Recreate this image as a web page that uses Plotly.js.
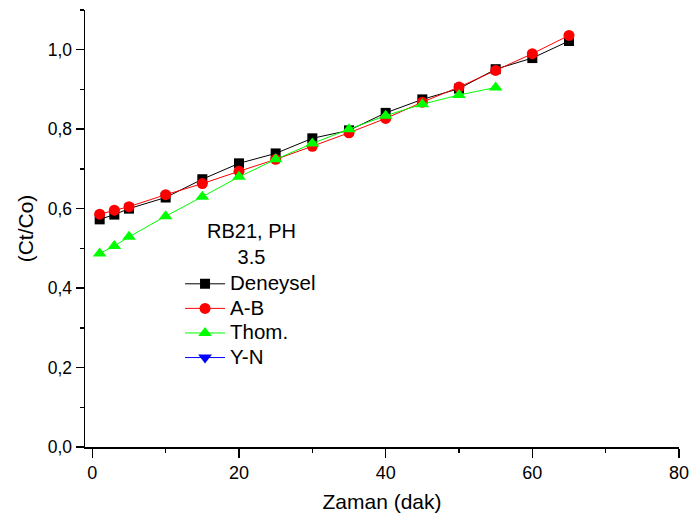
<!DOCTYPE html>
<html>
<head>
<meta charset="utf-8">
<script src="https://cdn.plot.ly/plotly-3.0.1.min.js"></script>
<style>html,body{margin:0;padding:0;background:#fff;}#chart{width:693px;height:520px;}</style>
</head>
<body>
<div id="chart"></div>
<script>
const time = [1, 3, 5, 10, 15, 20, 25, 30, 35, 40, 45, 50, 55, 60, 65];
const deneysel = [0.573, 0.585, 0.600, 0.628, 0.674, 0.714, 0.739, 0.777, 0.797, 0.841, 0.875, 0.902, 0.951, 0.979, 1.022];
const ab = [0.586, 0.596, 0.605, 0.635, 0.663, 0.694, 0.724, 0.757, 0.791, 0.827, 0.868, 0.906, 0.948, 0.990, 1.036];
const thomTime = [1, 3, 5, 10, 15, 20, 25, 30, 35, 40, 45, 50, 55];
const thom = [0.487, 0.506, 0.529, 0.581, 0.630, 0.680, 0.724, 0.764, 0.800, 0.834, 0.863, 0.886, 0.905];
// Y-N: no visible points in the reference (legend entry only)
const ynTime = [null];
const yn = [null];
const names = ["Deneysel", "A-B", "Thom.", "Y-N"];
const legendTitle = "RB21, PH<br>3.5";
const xTitle = "Zaman (dak)";
const yTitle = "(Ct/Co)";

const big = (s) => '<span style="font-size:20.5px">' + s + '</span>';

const traces = [
  {x: ynTime, y: yn, name: big(names[3]), mode: "lines+markers", legendrank: 4,
   line: {color: "#0000ff", width: 1}, marker: {symbol: "triangle-down", size: 12, color: "#0000ff"}},
  {x: time, y: deneysel, name: big(names[0]), mode: "lines+markers", legendrank: 1,
   line: {color: "#000000", width: 1}, marker: {symbol: "square", size: 10, color: "#000000"}},
  {x: time, y: ab, name: big(names[1]), mode: "lines+markers", legendrank: 2,
   line: {color: "#ff0000", width: 1}, marker: {symbol: "circle", size: 11, color: "#ff0000"}},
  {x: thomTime, y: thom, name: big(names[2]), mode: "lines+markers", legendrank: 3,
   line: {color: "#00ff00", width: 1}, marker: {symbol: "triangle-up", size: 12, color: "#00ff00"}}
];

const layout = {
  width: 693, height: 520,
  margin: {l: 85, r: 14, t: 10, b: 73},
  paper_bgcolor: "#fff", plot_bgcolor: "#fff",
  separators: ",.",
  font: {family: "Liberation Sans, Arial, sans-serif", size: 17, color: "#000"},
  showlegend: true,
  legend: {
    x: 0.16, y: 0.413, xanchor: "left", yanchor: "top",
    bgcolor: "rgba(0,0,0,0)", borderwidth: 0,
    font: {size: 16.6, color: "#000"},
    tracegroupgap: 0, itemwidth: 40
  },
  annotations: [{
    text: legendTitle, xref: "paper", yref: "paper",
    x: 0.281, y: 0.4645, xanchor: "center", yanchor: "middle",
    align: "center", showarrow: false, font: {size: 20, color: "#000"}
  }],
  xaxis: {
    range: [-1, 80], dtick: 20, tick0: 0,
    showline: true, linecolor: "#000", linewidth: 1.5,
    ticks: "outside", ticklen: 9, tickwidth: 1.5, tickcolor: "#000",
    minor: {dtick: 10, ticks: "outside", ticklen: 4, tickwidth: 1.5, tickcolor: "#000"},
    showgrid: false, zeroline: false, mirror: false,
    tickfont: {size: 18},
    title: {text: xTitle, font: {size: 21}, standoff: 12}
  },
  yaxis: {
    range: [0, 1.1], dtick: 0.2, tick0: 0, tickformat: ".1f",
    showline: true, linecolor: "#000", linewidth: 1.5,
    ticks: "outside", ticklen: 8, tickwidth: 1.5, tickcolor: "#000",
    minor: {dtick: 0.1, ticks: "outside", ticklen: 4, tickwidth: 1.5, tickcolor: "#000"},
    showgrid: false, zeroline: false, mirror: false,
    tickfont: {size: 17.5},
    title: {text: yTitle, font: {size: 21}, standoff: 8}
  }
};

Plotly.newPlot("chart", traces, layout, {displayModeBar: false, staticPlot: true});
</script>
</body>
</html>
